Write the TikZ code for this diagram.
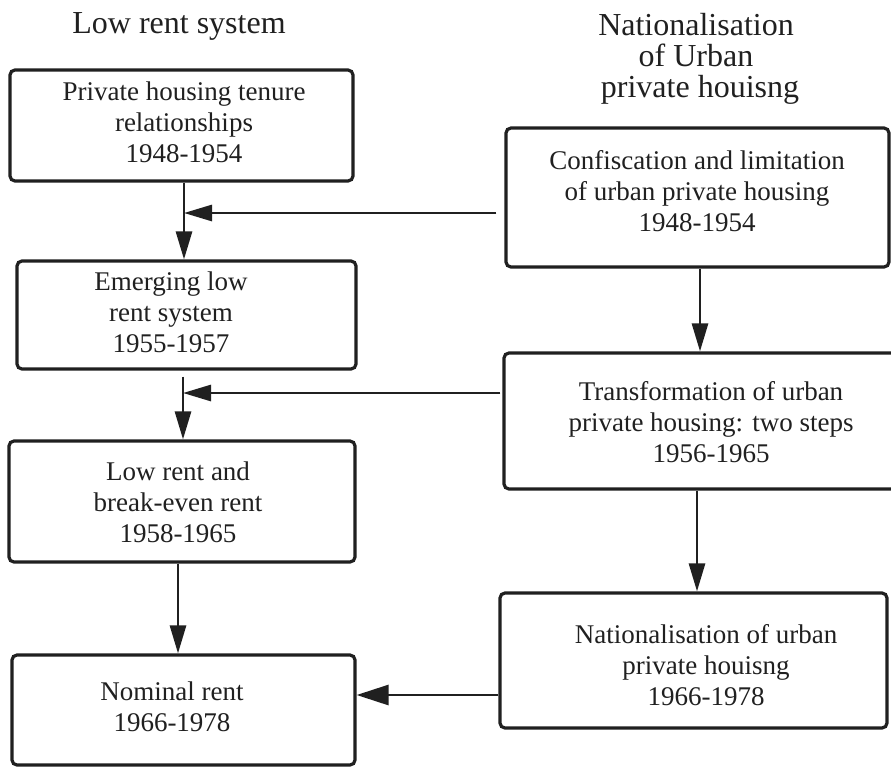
\documentclass[tikz,border=0pt]{standalone}
\usepackage{fontspec}
\setmainfont{Liberation Serif}
\usetikzlibrary{arrows.meta}
\definecolor{ink}{HTML}{202020}
\begin{document}
\begin{tikzpicture}[x=1pt,y=-1pt,
  box/.style={draw=ink, line width=3.2pt, rounded corners=5pt, inner sep=0pt},
  txt/.style={align=center, font=\fontsize{27}{31}\selectfont, inner sep=0pt, text=ink},
  ttl/.style={align=center, font=\fontsize{32}{31}\selectfont, inner sep=0pt, text=ink},
  arr/.style={draw=ink, line width=2.8pt, -{Triangle[length=28pt,width=16pt]}},
  bigarr/.style={draw=ink, line width=2.8pt, -{Triangle[length=32pt,width=20pt]}}]
\useasboundingbox (0,0) rectangle (891,769);
\clip (0,0) rectangle (891,769);
\fill[white] (0,0) rectangle (891,769);

% titles
\node[ttl, anchor=base] (t1) at (179,33) {Low rent system};
\node[ttl] (t2) at (696,58.5) {Nationalisation\\of Urban\\\ private houisng};

% left column boxes
\node[box, minimum width=343pt, minimum height=111pt] (A) at (181.5,125.5) {};
\node[box, minimum width=339pt, minimum height=108pt] (B) at (186.5,315) {};
\node[box, minimum width=346pt, minimum height=121pt] (C) at (182,501.5) {};
\node[box, minimum width=343pt, minimum height=110pt] (D) at (183.5,710) {};

% right column boxes
\node[box, minimum width=383pt, minimum height=139pt] (E1) at (697.5,197.5) {};
\node[box, minimum width=400pt, minimum height=136pt] (E2) at (704,421) {};
\node[box, minimum width=387pt, minimum height=135pt] (E3) at (693.5,660.5) {};

% box texts
\node[txt] (tA) at (184,121.8) {Private housing tenure\\relationships\\1948-1954};
\node[txt] (tB) at (171,312) {Emerging low\\rent system\\1955-1957};
\node[txt] (tC) at (178,502) {Low rent and\\break-even rent\\1958-1965};
\node[txt] (tD) at (172,707) {Nominal rent\\1966-1978};
\node[txt] (tE1) at (697,191) {Confiscation and limitation\\of urban private housing\\1948-1954};
\node[txt] (tE2) at (711,422.5) {Transformation of urban\\private housing: two steps\\1956-1965};
\node[txt] (tE3) at (706,665.5) {Nationalisation of urban\\private houisng\\1966-1978};

% helper coordinates
\coordinate (j1) at (184,213);
\coordinate (j2) at (183,393);
\coordinate (k) at (178,0);
\coordinate (r1) at (700,0);
\coordinate (r2) at (697,0);
\coordinate (h3) at (0,695);

% connectors
\draw[arr] (A.south -| j1) -- (B.north -| j1);
\draw[arr, shorten <=8pt] (E1.west |- j1) -- (j1);
\draw[arr, shorten <=6pt] (B.south -| j2) -- (C.north -| j2);
\draw[arr, shorten <=2pt] (E2.west |- j2) -- (j2);
\draw[arr] (C.south -| k) -- (D.north -| k);
\draw[arr] (E1.south -| r1) -- (E2.north -| r1);
\draw[arr] (E2.south -| r2) -- (E3.north -| r2);
\draw[bigarr] (E3.west |- h3) -- (D.east |- h3);
\end{tikzpicture}
\end{document}
